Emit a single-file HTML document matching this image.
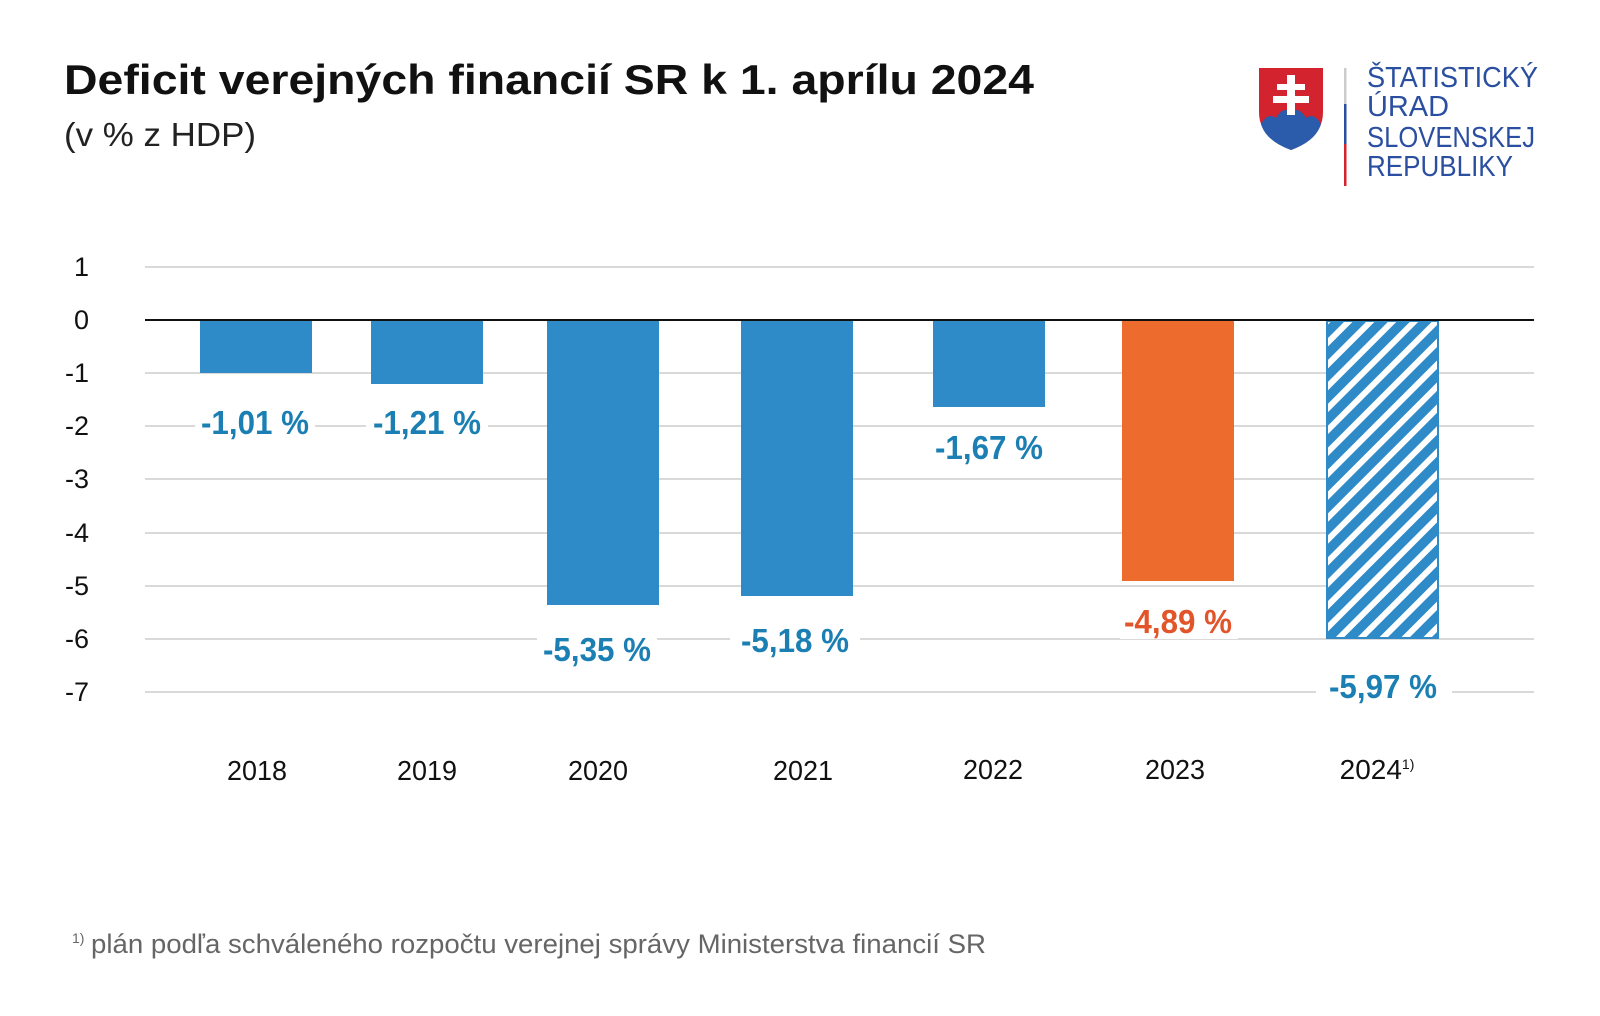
<!DOCTYPE html>
<html><head><meta charset="utf-8"><style>
html,body{margin:0;padding:0;background:#fff;}
svg{display:block;}
</style></head><body>
<svg width="1600" height="1016" viewBox="0 0 1600 1016" xmlns="http://www.w3.org/2000/svg">
<defs>
<pattern id="h" patternUnits="userSpaceOnUse" width="15.5" height="15.5" patternTransform="rotate(45)">
<rect width="15.5" height="15.5" fill="#2e8bc7"/>
<rect x="0" y="0" width="6" height="15.5" fill="#fff"/>
</pattern>
</defs>
<g font-family="'Liberation Sans',sans-serif">
<text x="64" y="94" font-size="42" font-weight="bold" fill="#111" textLength="970" lengthAdjust="spacingAndGlyphs">Deficit verejných financií SR k 1. aprílu 2024</text>
<text x="64" y="146" font-size="33" fill="#222" textLength="192" lengthAdjust="spacingAndGlyphs">(v % z HDP)</text>
</g>
<!-- logo -->
<path d="M1259 68 H1323 V112 Q1323 138 1291 150 Q1259 138 1259 112 Z" fill="#d2232e"/>
<path d="M1261 124 Q1268 112 1276 118 Q1283 106 1291 112 Q1299 106 1306 118 Q1314 112 1321 124 Q1316 141 1291 150 Q1266 141 1261 124 Z" fill="#2b5bab"/>
<g fill="#fff"><rect x="1287" y="75" width="8" height="40"/><rect x="1277" y="84" width="28" height="6"/><rect x="1273" y="96" width="36" height="7"/></g>
<rect x="1344" y="68" width="2.5" height="36" fill="#ccc"/><rect x="1344" y="104" width="2.5" height="40" fill="#2b4fa0"/><rect x="1344" y="144" width="2.5" height="42" fill="#d2232e"/>
<g font-family="'Liberation Sans',sans-serif" font-size="29" fill="#2b4fa0">
<text x="1367" y="87" textLength="171" lengthAdjust="spacingAndGlyphs">ŠTATISTICKÝ</text>
<text x="1367" y="116" textLength="82" lengthAdjust="spacingAndGlyphs">ÚRAD</text>
<text x="1367" y="147" textLength="168" lengthAdjust="spacingAndGlyphs">SLOVENSKEJ</text>
<text x="1367" y="176" textLength="146" lengthAdjust="spacingAndGlyphs">REPUBLIKY</text>
</g>
<!-- grid -->
<g stroke="#d9d9d9" stroke-width="2">
<line x1="145" x2="1534" y1="267" y2="267"/>
<line x1="145" x2="1534" y1="373" y2="373"/>
<line x1="145" x2="1534" y1="426" y2="426"/>
<line x1="145" x2="1534" y1="479" y2="479"/>
<line x1="145" x2="1534" y1="533" y2="533"/>
<line x1="145" x2="1534" y1="586" y2="586"/>
<line x1="145" x2="1534" y1="639" y2="639"/>
<line x1="145" x2="1534" y1="692" y2="692"/>
</g>
<g font-family="'Liberation Sans',sans-serif" font-size="27" fill="#111" text-anchor="end">
<text x="89" y="276">1</text><text x="89" y="329">0</text><text x="89" y="382">-1</text><text x="89" y="435">-2</text><text x="89" y="488">-3</text><text x="89" y="542">-4</text><text x="89" y="595">-5</text><text x="89" y="648">-6</text><text x="89" y="701">-7</text>
</g>
<!-- bars -->
<rect x="200" y="320" width="112" height="53" fill="#2e8bc7"/>
<rect x="371" y="320" width="112" height="64" fill="#2e8bc7"/>
<rect x="547" y="320" width="112" height="285" fill="#2e8bc7"/>
<rect x="741" y="320" width="112" height="276" fill="#2e8bc7"/>
<rect x="933" y="320" width="112" height="87" fill="#2e8bc7"/>
<rect x="1122" y="320" width="112" height="261" fill="#ec6b2d"/>
<rect x="1327" y="321" width="111" height="317" fill="url(#h)" stroke="#2e8bc7" stroke-width="2"/>
<line x1="145" x2="1534" y1="320" y2="320" stroke="#111" stroke-width="2"/>
<!-- labels -->
<g fill="#fff">
<rect x="195" y="404" width="120" height="36"/><rect x="366" y="404" width="122" height="36"/>
<rect x="537" y="631" width="120" height="36"/><rect x="730" y="622" width="130" height="36"/>
<rect x="927" y="429" width="124" height="36"/><rect x="1120" y="603" width="118" height="36"/>
<rect x="1316" y="668" width="136" height="36"/>
</g>
<g font-family="'Liberation Sans',sans-serif" font-size="33" font-weight="bold" text-anchor="middle" fill="#1b7fb3">
<text x="255" y="434" textLength="108" lengthAdjust="spacingAndGlyphs">-1,01 %</text>
<text x="427" y="434" textLength="108" lengthAdjust="spacingAndGlyphs">-1,21 %</text>
<text x="597" y="661" textLength="108" lengthAdjust="spacingAndGlyphs">-5,35 %</text>
<text x="795" y="652" textLength="108" lengthAdjust="spacingAndGlyphs">-5,18 %</text>
<text x="989" y="459" textLength="108" lengthAdjust="spacingAndGlyphs">-1,67 %</text>
<text x="1178" y="633" textLength="108" lengthAdjust="spacingAndGlyphs" fill="#e2542a">-4,89 %</text>
<text x="1383" y="698" textLength="108" lengthAdjust="spacingAndGlyphs">-5,97 %</text>
</g>
<g font-family="'Liberation Sans',sans-serif" font-size="28" fill="#111" text-anchor="middle">
<text x="257" y="780" textLength="60" lengthAdjust="spacingAndGlyphs">2018</text><text x="427" y="780" textLength="60" lengthAdjust="spacingAndGlyphs">2019</text><text x="598" y="780" textLength="60" lengthAdjust="spacingAndGlyphs">2020</text><text x="803" y="780" textLength="60" lengthAdjust="spacingAndGlyphs">2021</text><text x="993" y="779" textLength="60" lengthAdjust="spacingAndGlyphs">2022</text><text x="1175" y="779" textLength="60" lengthAdjust="spacingAndGlyphs">2023</text><text x="1377" y="779">2024<tspan font-size="14" dy="-10">1)</tspan></text>
</g>
<g font-family="'Liberation Sans',sans-serif" fill="#666">
<text x="72" y="943" font-size="14">1)</text>
<text x="91" y="953" font-size="27" textLength="895" lengthAdjust="spacingAndGlyphs">plán podľa schváleného rozpočtu verejnej správy Ministerstva financií SR</text>
</g>
</svg>
</body></html>
